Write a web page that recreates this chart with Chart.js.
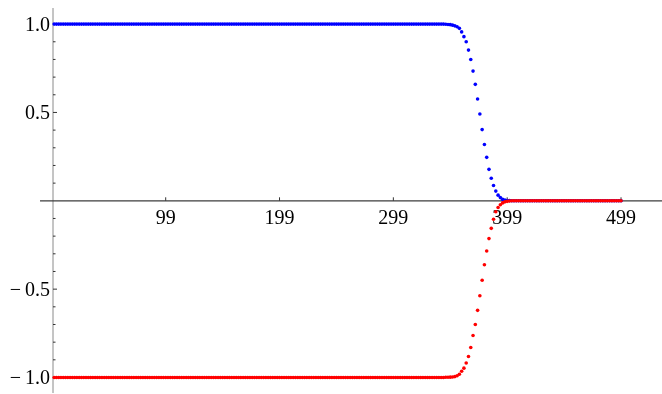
<!DOCTYPE html>
<html>
  <head>
    <meta charset="utf-8" />
    <title>step curves</title>
    <script src="https://cdn.jsdelivr.net/npm/chart.js@4.4.1/dist/chart.umd.min.js"></script>
    <style>
      body { margin: 0; background: #fff; }
      canvas { display: block; }
    </style>
  </head>
  <body>
    <canvas id="plot" width="662" height="394"></canvas>

    <script>
      // sample positions (every other index, 1..499)
      var xs = [];
      for (var i = 1; i <= 499; i += 2) xs.push(i);

      // blue series: 1 up to x=343, then drops to 0
      var blueVals = [
        1, 1, 1, 1, 1, 1, 1, 1, 1, 1, 1, 1, 1, 1, 1, 1, 1, 1, 1, 1,
        1, 1, 1, 1, 1, 1, 1, 1, 1, 1, 1, 1, 1, 1, 1, 1, 1, 1, 1, 1,
        1, 1, 1, 1, 1, 1, 1, 1, 1, 1, 1, 1, 1, 1, 1, 1, 1, 1, 1, 1,
        1, 1, 1, 1, 1, 1, 1, 1, 1, 1, 1, 1, 1, 1, 1, 1, 1, 1, 1, 1,
        1, 1, 1, 1, 1, 1, 1, 1, 1, 1, 1, 1, 1, 1, 1, 1, 1, 1, 1, 1,
        1, 1, 1, 1, 1, 1, 1, 1, 1, 1, 1, 1, 1, 1, 1, 1, 1, 1, 1, 1,
        1, 1, 1, 1, 1, 1, 1, 1, 1, 1, 1, 1, 1, 1, 1, 1, 1, 1, 1, 1,
        1, 1, 1, 1, 1, 1, 1, 1, 1, 1, 1, 1, 1, 1, 1, 1, 1, 1, 1, 1,
        1, 1, 1, 1, 1, 1, 1, 1, 1, 1, 1, 1,
        0.999, 0.998, 0.997, 0.994, 0.99, 0.985, 0.976, 0.956, 0.929, 0.9,
        0.853, 0.8, 0.734, 0.659, 0.576, 0.491, 0.403, 0.319, 0.246, 0.178,
        0.128, 0.087, 0.055, 0.032, 0.018, 0.008, 0.004, 0.002, 0.001,
        0, 0, 0, 0, 0, 0, 0, 0, 0, 0, 0, 0, 0, 0, 0, 0, 0, 0, 0, 0,
        0, 0, 0, 0, 0, 0, 0, 0, 0, 0, 0, 0, 0, 0, 0, 0, 0, 0, 0, 0,
        0, 0, 0, 0, 0, 0, 0, 0, 0
      ];

      // red series: -1 up to x=343, then rises to 0
      var redVals = [
        -1, -1, -1, -1, -1, -1, -1, -1, -1, -1, -1, -1, -1, -1, -1, -1, -1, -1, -1, -1,
        -1, -1, -1, -1, -1, -1, -1, -1, -1, -1, -1, -1, -1, -1, -1, -1, -1, -1, -1, -1,
        -1, -1, -1, -1, -1, -1, -1, -1, -1, -1, -1, -1, -1, -1, -1, -1, -1, -1, -1, -1,
        -1, -1, -1, -1, -1, -1, -1, -1, -1, -1, -1, -1, -1, -1, -1, -1, -1, -1, -1, -1,
        -1, -1, -1, -1, -1, -1, -1, -1, -1, -1, -1, -1, -1, -1, -1, -1, -1, -1, -1, -1,
        -1, -1, -1, -1, -1, -1, -1, -1, -1, -1, -1, -1, -1, -1, -1, -1, -1, -1, -1, -1,
        -1, -1, -1, -1, -1, -1, -1, -1, -1, -1, -1, -1, -1, -1, -1, -1, -1, -1, -1, -1,
        -1, -1, -1, -1, -1, -1, -1, -1, -1, -1, -1, -1, -1, -1, -1, -1, -1, -1, -1, -1,
        -1, -1, -1, -1, -1, -1, -1, -1, -1, -1, -1, -1,
        -0.999, -0.999, -0.998, -0.997, -0.995, -0.99, -0.982, -0.965, -0.947, -0.918,
        -0.881, -0.83, -0.762, -0.7, -0.62, -0.537, -0.45, -0.362, -0.284, -0.214,
        -0.156, -0.104, -0.062, -0.038, -0.022, -0.012, -0.006, -0.003, -0.001,
        0, 0, 0, 0, 0, 0, 0, 0, 0, 0, 0, 0, 0, 0, 0, 0, 0, 0, 0, 0,
        0, 0, 0, 0, 0, 0, 0, 0, 0, 0, 0, 0, 0, 0, 0, 0, 0, 0, 0, 0,
        0, 0, 0, 0, 0, 0, 0, 0, 0
      ];

      // ticks
      var xTicks = [99, 199, 299, 399, 499];
      var yTicks = [-1, -0.5, 0.5, 1];
      var yMinorTicks = [-0.9, -0.8, -0.7, -0.6, -0.4, -0.3, -0.2, -0.1,
                         0.1, 0.2, 0.3, 0.4, 0.6, 0.7, 0.8, 0.9];

      function toPoints(vals) {
        return vals.map(function (v, k) { return { x: xs[k], y: v }; });
      }

      function fmtY(v) {
        var s = Math.abs(v).toFixed(1);
        return v < 0 ? "\u2212\u2009" + s : s;
      }

      // Mathematica-like axes crossing at the origin
      var axesPlugin = {
        id: "axes",
        beforeDatasetsDraw: function (chart) {
          var ctx = chart.ctx;
          var sx = chart.scales.x, sy = chart.scales.y;
          var x0 = sx.getPixelForValue(0);
          var y0 = sy.getPixelForValue(0);
          ctx.save();

          // y axis
          ctx.strokeStyle = "#8a8a8a";
          ctx.lineWidth = 1;
          ctx.beginPath();
          ctx.moveTo(x0, sy.getPixelForValue(1.091));
          ctx.lineTo(x0, sy.getPixelForValue(-1.088));
          ctx.stroke();

          // x axis
          ctx.strokeStyle = "#3c3c3c";
          ctx.lineWidth = 1.3;
          ctx.beginPath();
          ctx.moveTo(sx.getPixelForValue(-11.4), y0);
          ctx.lineTo(sx.getPixelForValue(535), y0);
          ctx.stroke();

          // tick marks
          ctx.strokeStyle = "#333";
          ctx.lineWidth = 1;
          ctx.beginPath();
          xTicks.forEach(function (t) {
            var px = sx.getPixelForValue(t);
            ctx.moveTo(px, y0);
            ctx.lineTo(px, y0 - 3.5);
          });
          yTicks.forEach(function (t) {
            var py = sy.getPixelForValue(t);
            ctx.moveTo(x0, py);
            ctx.lineTo(x0 + 4, py);
          });
          yMinorTicks.forEach(function (t) {
            var py = sy.getPixelForValue(t);
            ctx.moveTo(x0, py);
            ctx.lineTo(x0 + 2.5, py);
          });
          ctx.stroke();

          // labels
          ctx.fillStyle = "#000";
          ctx.font = '20px "Liberation Serif", serif';
          ctx.textBaseline = "alphabetic";
          ctx.textAlign = "center";
          xTicks.forEach(function (t) {
            ctx.fillText(String(t), sx.getPixelForValue(t), y0 + 22.8);
          });
          ctx.textAlign = "right";
          yTicks.forEach(function (t) {
            ctx.fillText(fmtY(t), x0 - 3, sy.getPixelForValue(t) + 7);
          });
          ctx.restore();
        },
      };

      var ctx = document.getElementById("plot");
      var plot = new Chart(ctx, {
        type: "scatter",
        data: {
          datasets: [
            {
              label: "blue",
              data: toPoints(blueVals),
              backgroundColor: "#0000ff",
              pointRadius: 1.8,
              pointBorderWidth: 0,
              showLine: false,
              order: 1,
            },
            {
              label: "red",
              data: toPoints(redVals),
              backgroundColor: "#ff0000",
              pointRadius: 1.8,
              pointBorderWidth: 0,
              showLine: false,
              order: 0,
            },
          ],
        },
        options: {
          responsive: false,
          animation: false,
          layout: { padding: 0, autoPadding: false },
          plugins: {
            legend: { display: false },
            tooltip: { enabled: false },
          },
          scales: {
            x: { type: "linear", display: false, min: -46.56, max: 535.0 },
            y: { type: "linear", display: false, min: -1.0934, max: 1.1364 },
          },
        },
        plugins: [axesPlugin],
      });
    </script>
  </body>
</html>
